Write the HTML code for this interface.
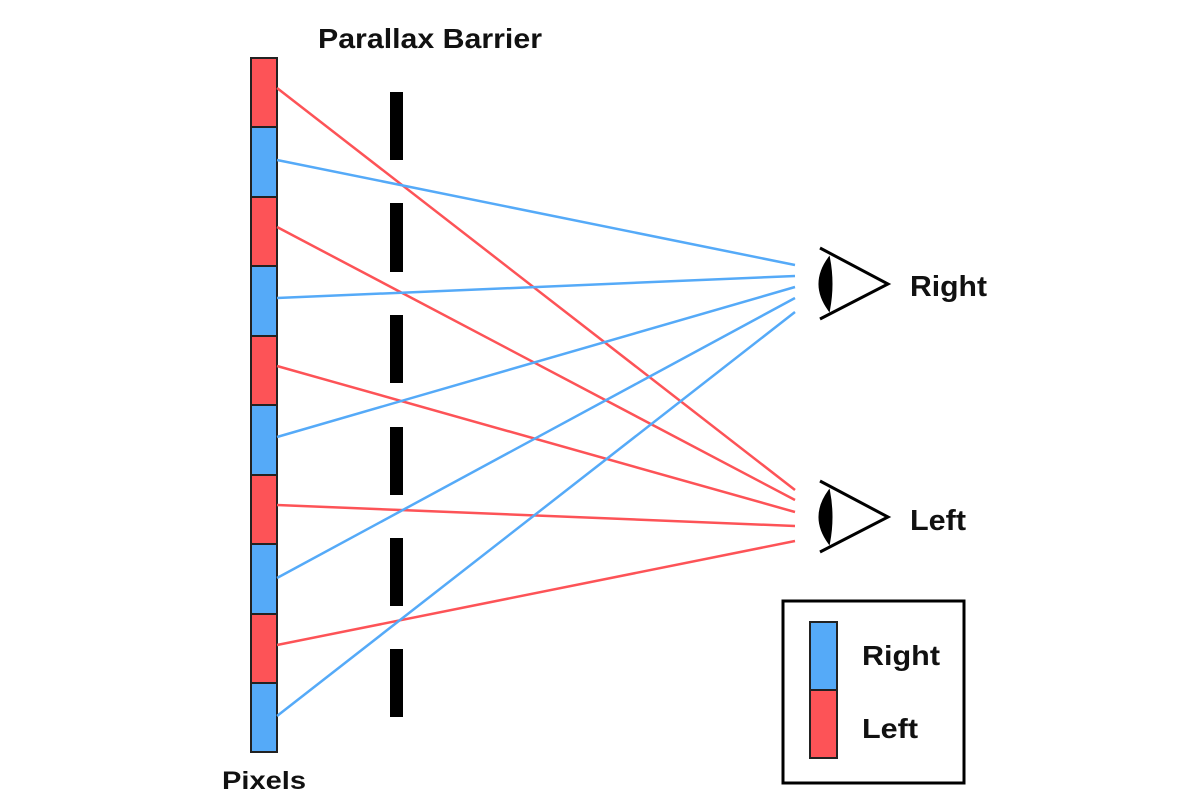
<!DOCTYPE html>
<html><head><meta charset="utf-8"><style>
html,body{margin:0;padding:0;background:#fff}
svg{display:block}
text{font-family:"Liberation Sans",sans-serif;font-weight:bold;fill:#111}
</style></head><body>
<svg width="1200" height="800" viewBox="0 0 1200 800">
<g stroke="#222" stroke-width="2">
<rect x="251" y="58" width="26" height="69" fill="#fd5357"/>
<rect x="251" y="127" width="26" height="70" fill="#55aaf8"/>
<rect x="251" y="197" width="26" height="69" fill="#fd5357"/>
<rect x="251" y="266" width="26" height="70" fill="#55aaf8"/>
<rect x="251" y="336" width="26" height="69" fill="#fd5357"/>
<rect x="251" y="405" width="26" height="70" fill="#55aaf8"/>
<rect x="251" y="475" width="26" height="69" fill="#fd5357"/>
<rect x="251" y="544" width="26" height="70" fill="#55aaf8"/>
<rect x="251" y="614" width="26" height="69" fill="#fd5357"/>
<rect x="251" y="683" width="26" height="69" fill="#55aaf8"/>
</g>
<g fill="#000">
<rect x="390" y="92" width="13" height="68"/>
<rect x="390" y="203" width="13" height="69"/>
<rect x="390" y="315" width="13" height="68"/>
<rect x="390" y="427" width="13" height="68"/>
<rect x="390" y="538" width="13" height="68"/>
<rect x="390" y="649" width="13" height="68"/>
</g>
<g stroke="#fd5357" stroke-width="2.5">
<line x1="277" y1="88" x2="795" y2="490"/>
<line x1="277" y1="227" x2="795" y2="500"/>
<line x1="277" y1="366" x2="795" y2="512"/>
<line x1="277" y1="505" x2="795" y2="526"/>
<line x1="277" y1="645" x2="795" y2="541"/>
</g>
<g stroke="#55aaf8" stroke-width="2.5">
<line x1="277" y1="160" x2="795" y2="265"/>
<line x1="277" y1="298" x2="795" y2="276"/>
<line x1="277" y1="437" x2="795" y2="287"/>
<line x1="277" y1="578" x2="795" y2="298"/>
<line x1="277" y1="716" x2="795" y2="312"/>
</g>
<g id="eye" fill="none" stroke="#000" stroke-width="3">
<polyline points="820,248 888,284 820,319"/>
<path d="M829,258 Q810,284 829,310 Q834,284 829,258 Z" fill="#000" stroke-width="2"/>
</g>
<use href="#eye" transform="translate(0,233)"/>
<rect x="783" y="601" width="181" height="182" fill="none" stroke="#000" stroke-width="3"/>
<rect x="810" y="622" width="27" height="68" fill="#55aaf8" stroke="#222" stroke-width="2"/>
<rect x="810" y="690" width="27" height="68" fill="#fd5357" stroke="#222" stroke-width="2"/>
<text x="318" y="48" font-size="28" textLength="224" lengthAdjust="spacingAndGlyphs">Parallax Barrier</text>
<text x="222" y="789" font-size="25" textLength="84" lengthAdjust="spacingAndGlyphs">Pixels</text>
<text x="910" y="296" font-size="29" textLength="77" lengthAdjust="spacingAndGlyphs">Right</text>
<text x="910" y="530" font-size="29" textLength="56" lengthAdjust="spacingAndGlyphs">Left</text>
<text x="862" y="665" font-size="28" textLength="78" lengthAdjust="spacingAndGlyphs">Right</text>
<text x="862" y="738" font-size="28" textLength="56" lengthAdjust="spacingAndGlyphs">Left</text>
</svg>
</body></html>
